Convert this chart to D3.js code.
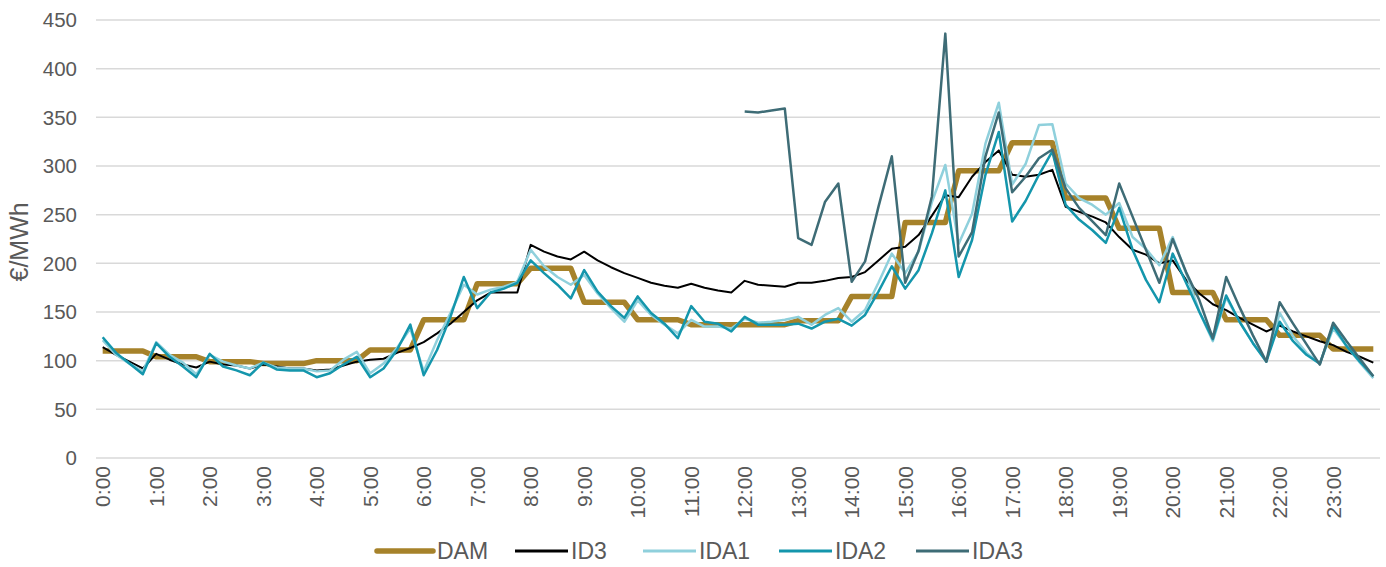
<!DOCTYPE html>
<html>
<head>
<meta charset="utf-8">
<script src="https://d3js.org/d3.v7.min.js"></script>
<style>
  body { margin: 0; background: #fff; }
  text { font-family: "Liberation Sans", Arial, sans-serif; fill: #595959; }
</style>
</head>
<body>
<svg id="chart" width="1386" height="567"></svg>
<script>
// hourly tick labels (one point every quarter hour)
var hours = ["0:00","1:00","2:00","3:00","4:00","5:00","6:00","7:00","8:00","9:00","10:00","11:00",
             "12:00","13:00","14:00","15:00","16:00","17:00","18:00","19:00","20:00","21:00","22:00","23:00"];
var yTicks = [0, 50, 100, 150, 200, 250, 300, 350, 400, 450];

var dam = [110,110,110,110, 104,104,104,104, 99,99,99,99, 97,97,97,97,
           100,100,100,100, 111,111,111,111, 142,142,142,142, 179,179,179,179,
           195,195,195,195, 160,160,160,160, 142,142,142,142, 137,137,137,137,
           137,137,137,137, 141,141,141,141, 166,166,166,166, 242,242,242,242,
           295,295,295,295, 324,324,324,324, 267,267,267,267, 236,236,236,236,
           170,170,170,170, 142,142,142,142, 126,126,126,126, 112,112,112,112];

var id3 = [114,106,99,92, 107,101,96,93, 99,96,95,92, 96,94,92,92,
           90,91,95,99, 101,102,108,113, 119,128,138,150, 162,170,170,170,
           219,212,207,204, 212,203,196,190, 185,180,177,175, 179,175,172,170,
           182,178,177,176, 180,180,182,185, 186,191,203,215, 217,229,249,270,
           268,289,304,316, 291,289,291,296, 258,253,248,242, 227,214,209,200,
           203,183,169,158, 152,144,137,130, 136,130,125,120, 116,109,104,98];

var ida1 = [121,106,97,89, 119,106,98,86, 106,99,95,92, 98,93,92,92,
            89,90,101,109, 87,97,113,133, 89,121,149,178, 168,173,176,181,
            214,197,186,178, 188,169,154,140, 162,147,137,128, 142,135,135,133,
            143,139,140,142, 145,137,147,154, 140,152,180,210, 190,212,263,301,
            220,251,323,365, 281,302,342,343, 282,267,260,250, 262,227,215,198,
            227,190,150,120, 165,140,118,99, 149,125,108,97, 133,115,98,82];

var ida2 = [124,108,97,86, 118,104,94,83, 107,94,90,85, 98,91,90,90,
            83,87,96,104, 83,92,111,137, 85,111,145,186, 154,170,174,180,
            203,190,178,164, 193,171,156,144, 166,149,138,123, 156,140,138,130,
            145,137,137,137, 138,133,140,143, 136,147,171,197, 174,193,231,275,
            186,224,291,335, 243,264,291,315, 260,245,234,221, 257,214,183,160,
            210,180,150,122, 167,140,118,99, 140,120,106,97, 136,115,99,84];

// IDA3 only covers the afternoon session (from 12:00)
var ida3 = [null,null,null,null, null,null,null,null, null,null,null,null, null,null,null,null,
            null,null,null,null, null,null,null,null, null,null,null,null, null,null,null,null,
            null,null,null,null, null,null,null,null, null,null,null,null, null,null,null,null,
            356,355,357,359, 226,219,263,282, 181,202,258,310, 180,213,269,436,
            207,232,310,355, 273,289,308,317, 277,257,243,229, 282,248,214,180,
            225,191,162,123, 186,155,126,99, 160,138,117,96, 139,120,102,84];

var series = [
  { name: "DAM",  values: dam,  color: "#a6822a", width: 5.5 },
  { name: "ID3",  values: id3,  color: "#000000", width: 2 },
  { name: "IDA1", values: ida1, color: "#8fd0dc", width: 2.5 },
  { name: "IDA2", values: ida2, color: "#1496ac", width: 2.5 },
  { name: "IDA3", values: ida3, color: "#3e6c76", width: 2.5 }
];

var svg = d3.select("#chart");
var plotLeft = 96, plotRight = 1380;

var x = d3.scalePoint()
  .domain(d3.range(dam.length))
  .range([plotLeft, plotRight])
  .padding(0.5);

var y = d3.scaleLinear().domain([0, 450]).range([458, 20]);

// gridlines + y tick labels
var grid = svg.append("g");
grid.selectAll("line")
  .data(yTicks)
  .enter()
  .append("line")
  .attr("x1", plotLeft)
  .attr("x2", plotRight)
  .attr("y1", function (d) { return y(d); })
  .attr("y2", function (d) { return y(d); })
  .attr("stroke", "#d9d9d9")
  .attr("stroke-width", 1.5);

grid.selectAll("text")
  .data(yTicks)
  .enter()
  .append("text")
  .attr("x", 77)
  .attr("y", function (d) { return y(d); })
  .attr("dy", "0.35em")
  .attr("text-anchor", "end")
  .style("font-size", "20.5px")
  .text(function (d) { return d; });

// y axis title
svg.append("text")
  .attr("transform", "translate(28," + y(222) + ") rotate(-90)")
  .attr("text-anchor", "middle")
  .style("font-size", "25px")
  .text("€/MWh");

// x tick labels, rotated
svg.append("g").selectAll("text")
  .data(hours)
  .enter()
  .append("text")
  .attr("transform", function (d, i) {
    return "translate(" + x(i * 4) + ",466) rotate(-90)";
  })
  .attr("dy", "0.35em")
  .attr("text-anchor", "end")
  .style("font-size", "21px")
  .text(function (d) { return d; });

// lines
var line = d3.line()
  .defined(function (d) { return d != null; })
  .x(function (d, i) { return x(i); })
  .y(function (d) { return y(d); });

svg.append("g").selectAll("path")
  .data(series)
  .enter()
  .append("path")
  .attr("d", function (s) { return line(s.values); })
  .attr("fill", "none")
  .attr("stroke", function (s) { return s.color; })
  .attr("stroke-width", function (s) { return s.width; })
  .attr("stroke-linejoin", "round");

// legend
var legendX = [377, 515, 643, 779, 916];
var legend = svg.append("g").selectAll("g")
  .data(series)
  .enter()
  .append("g")
  .attr("transform", function (d, i) { return "translate(" + legendX[i] + ",551)"; });

legend.append("line")
  .attr("x1", 0)
  .attr("x2", function (s) { return s.name === "DAM" ? 56 : 53; })
  .attr("stroke", function (s) { return s.color; })
  .attr("stroke-width", function (s) { return s.name === "DAM" ? 5.5 : 3; })
  .attr("stroke-linecap", function (s) { return s.name === "DAM" ? "round" : "butt"; });

legend.append("text")
  .attr("x", function (s) { return s.name === "DAM" ? 60 : 56; })
  .attr("dy", "0.35em")
  .style("font-size", "23px")
  .text(function (s) { return s.name; });
</script>
</body>
</html>
